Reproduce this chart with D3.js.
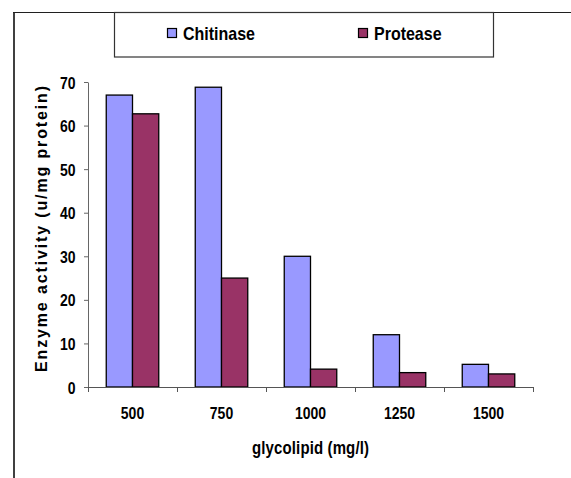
<!DOCTYPE html>
<html>
<head>
<meta charset="utf-8">
<script src="https://cdn.jsdelivr.net/npm/d3@7"></script>
<style>
  body { margin: 0; background: #fff; }
  text { font-family: "Liberation Sans", Arial, sans-serif; font-weight: bold; fill: #000; }
</style>
</head>
<body>
<svg id="chart" width="571" height="478"></svg>
<script>
const categories = ['500', '750', '1000', '1250', '1500'];
const seriesNames = ['Chitinase', 'Protease'];
const chitinase = [67, 68.8, 30, 12, 5.2];
const protease = [62.7, 25, 4.1, 3.3, 3];
const yTicks = [0, 10, 20, 30, 40, 50, 60, 70];

const colors = { Chitinase: '#9999ff', Protease: '#993366' };
const stretch = 1.2; // text in the picture is a bit taller than wide

const plot = { left: 88, right: 533, top: 82, bottom: 387 };

const svg = d3.select('#chart');

// outer frame (only the left and top edges are visible)
svg.append('line')
  .attr('x1', 14).attr('x2', 14).attr('y1', 12).attr('y2', 478)
  .attr('stroke', '#404040').attr('stroke-width', 2);
svg.append('line')
  .attr('x1', 13).attr('x2', 571).attr('y1', 12.5).attr('y2', 12.5)
  .attr('stroke', '#202020').attr('stroke-width', 1.2);

const x0 = d3.scaleBand()
  .domain(categories)
  .range([plot.left, plot.right])
  .paddingInner(0.41)
  .paddingOuter(0.205);

const x1 = d3.scaleBand()
  .domain(seriesNames)
  .range([0, x0.bandwidth()]);

const edges = d3.scaleLinear()
  .domain([0, categories.length])
  .range([plot.left, plot.right]);

const y = d3.scaleLinear()
  .domain([0, 70])
  .range([plot.bottom, plot.top]);

const data = categories.map((c, i) => ({ cat: c, Chitinase: chitinase[i], Protease: protease[i] }));

// bars
const groups = svg.append('g').selectAll('g')
  .data(data)
  .join('g')
    .attr('transform', d => `translate(${x0(d.cat)},0)`);

groups.selectAll('rect')
  .data(d => seriesNames.map(s => ({ key: s, value: d[s] })))
  .join('rect')
    .attr('x', d => x1(d.key))
    .attr('y', d => y(d.value))
    .attr('width', x1.bandwidth())
    .attr('height', d => y(0) - y(d.value))
    .attr('fill', d => colors[d.key])
    .attr('stroke', '#000')
    .attr('stroke-width', 1.3);

// y axis
const yAxis = svg.append('g')
  .attr('transform', `translate(${plot.left},0)`)
  .call(d3.axisLeft(y).tickValues(yTicks).tickSize(4).tickSizeOuter(0).tickPadding(8.5));
yAxis.selectAll('path, line').attr('stroke', '#666');
yAxis.selectAll('text')
  .attr('font-size', 14)
  .attr('font-family', '"Liberation Sans", Arial, sans-serif')
  .attr('font-weight', 'bold')
  .attr('dy', '0.36em')
  .attr('transform', `scale(1,${stretch})`);

// x axis line with ticks between categories
const xAxis = svg.append('g')
  .attr('transform', `translate(0,${plot.bottom})`)
  .call(d3.axisBottom(edges).tickValues(d3.range(categories.length + 1)).tickSize(5).tickSizeOuter(0).tickFormat(''));
xAxis.selectAll('path, line').attr('stroke', '#555');

// category labels
const xLabels = svg.append('g')
  .attr('transform', `translate(0,${plot.bottom})`)
  .call(d3.axisBottom(x0).tickSize(0).tickPadding(17));
xLabels.select('.domain').remove();
xLabels.selectAll('text')
  .attr('font-size', 14)
  .attr('font-family', '"Liberation Sans", Arial, sans-serif')
  .attr('font-weight', 'bold')
  .attr('transform', `scale(1,${stretch})`);

// axis titles
svg.append('text')
  .attr('transform', `translate(${(plot.left + plot.right) / 2},454) scale(1,${stretch})`)
  .attr('text-anchor', 'middle')
  .attr('font-size', 15)
  .attr('textLength', 117)
  .attr('lengthAdjust', 'spacing')
  .text('glycolipid (mg/l)');

svg.append('text')
  .attr('transform', 'translate(47,229) rotate(-90)')
  .attr('text-anchor', 'middle')
  .attr('font-size', 16)
  .attr('textLength', 286)
  .attr('lengthAdjust', 'spacing')
  .text('Enzyme activity (u/mg protein)');

// legend
svg.append('rect')
  .attr('x', 114.5).attr('y', 12.5)
  .attr('width', 379).attr('height', 44.5)
  .attr('fill', '#fff')
  .attr('stroke', '#333').attr('stroke-width', 1.2);

const legendX = d3.scalePoint()
  .domain(seriesNames)
  .range([167, 358]);

const items = svg.append('g').selectAll('g')
  .data(seriesNames)
  .join('g')
    .attr('transform', d => `translate(${legendX(d)},0)`);

items.append('rect')
  .attr('x', 0.5).attr('y', 28.5)
  .attr('width', 9).attr('height', 9)
  .attr('fill', d => colors[d])
  .attr('stroke', '#000').attr('stroke-width', 1.2);

items.append('text')
  .attr('transform', `translate(16,40) scale(1,${stretch})`)
  .attr('font-size', 16)
  .text(d => d);
</script>
</body>
</html>
